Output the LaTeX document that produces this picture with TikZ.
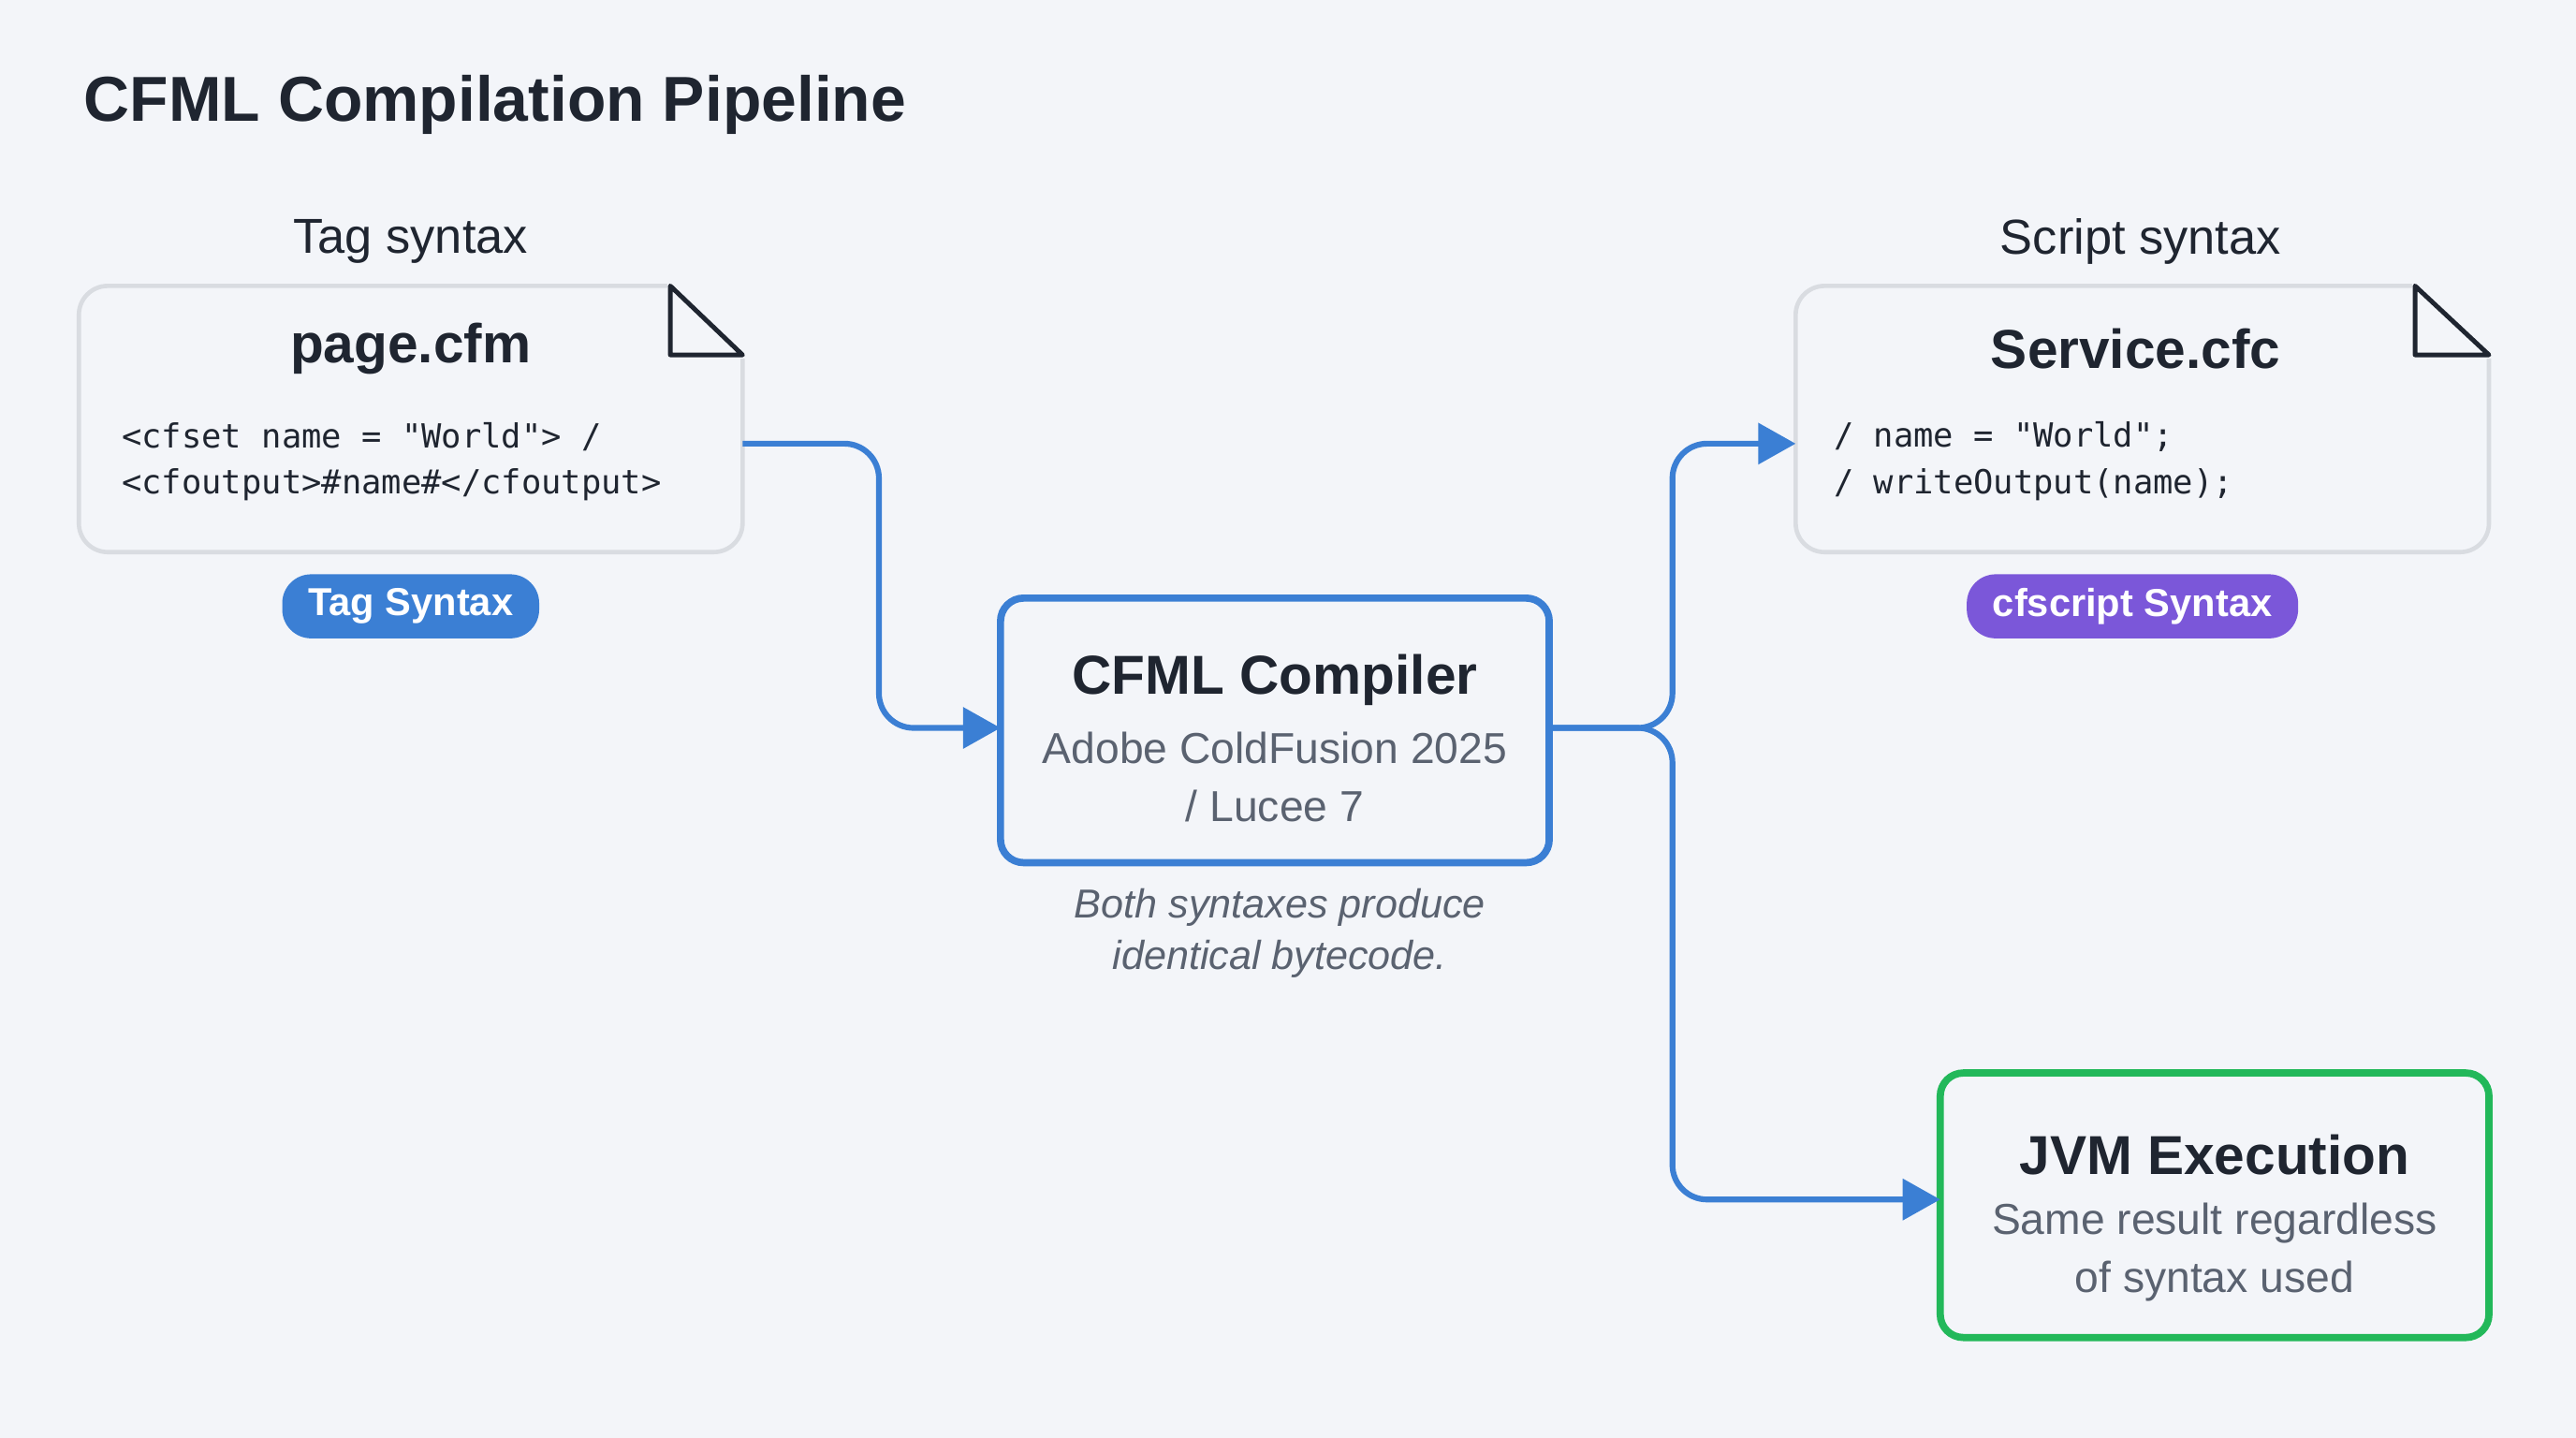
\documentclass[tikz,border=0pt]{standalone}
\usepackage{fontspec}
\setmainfont{Liberation Sans}
\newfontfamily\codefont{DejaVu Sans Mono}
\usetikzlibrary{arrows.meta,positioning}
\definecolor{bgc}{HTML}{F3F5F9}
\definecolor{ink}{HTML}{1F2530}
\definecolor{grayline}{HTML}{D9DCE1}
\definecolor{subt}{HTML}{5A6270}
\definecolor{flow}{HTML}{3B7FD4}
\definecolor{pillp}{HTML}{7B57D9}
\definecolor{okg}{HTML}{22B85A}
\begin{document}
\begin{tikzpicture}[x=0.02cm,y=-0.02cm]
\tikzstyle{doc}=[draw=grayline,line width=1.5pt,fill=bgc,rounded corners=10pt]
\tikzstyle{hdr}=[font=\fontsize{17}{20}\selectfont,text=ink]
\tikzstyle{fname}=[font=\fontsize{19}{23}\selectfont\bfseries,text=ink]
\tikzstyle{code}=[font=\codefont\fontsize{11.5}{16}\selectfont,text=ink,anchor=west]
\tikzstyle{pill}=[rounded corners=10pt,text=white,minimum height=0.78cm,font=\fontsize{13.5}{16}\selectfont\bfseries,inner xsep=9pt]
\tikzstyle{stage}=[line width=2.5pt,rounded corners=8pt,fill=bgc]
\tikzstyle{sub}=[font=\fontsize{15}{20}\selectfont,text=subt,align=center]
\tikzstyle{link}=[draw=flow,line width=2pt,rounded corners=12pt,-{Triangle[length=13pt,width=14pt]}]
\fill[bgc] (0,0) rectangle (1568,875);
\node[anchor=west,font=\fontsize{22}{26}\selectfont\bfseries,text=ink] (title) at (45,64) {CFML Compilation Pipeline};
% tag syntax file
\draw[doc] (48,174) rectangle (452,336);
\fill[bgc] (406,168) rectangle (458,218);
\draw[ink,line width=1.6pt,line join=round] (408,174) -- (408,216) -- (452,216) -- cycle;
\node[hdr] (taghdr) at (250,147) {Tag syntax};
\node[fname] (tagname) at (250,212) {page.cfm};
\node[code] (tagc1) at (68,266) {<cfset name = "World"> /};
\node[code] (tagc2) at (68,295) {<cfoutput>\#name\#</cfoutput>};
\node[pill,fill=flow] (tagpill) at (250,369) {Tag Syntax};
\coordinate (tagout) at (452,270);
% script syntax file
\draw[doc] (1093,174) rectangle (1515,336);
\fill[bgc] (1468,168) rectangle (1521,218);
\draw[ink,line width=1.6pt,line join=round] (1470,174) -- (1470,216) -- (1515,216) -- cycle;
\node[hdr] (scrhdr) at (1303,147) {Script syntax};
\node[fname] (scrname) at (1300,212) {Service.cfc};
\node[code] (scrc1) at (1110,266) {/ name = "World";};
\node[code] (scrc2) at (1110,295) {/ writeOutput(name);};
\node[pill,fill=pillp] (scrpill) at (1298,369) {cfscript Syntax};
\coordinate (scrin) at (1093,270);
% compiler
\draw[stage,draw=flow] (609,364) rectangle (943,525);
\node[fname] (comp) at (776,414) {CFML Compiler};
\node[sub] (compsub) at (776,473) {Adobe ColdFusion 2025\\/ Lucee 7};
\node[font=\fontsize{14}{18}\selectfont\itshape,text=subt,align=center] (note) at (779,568) {Both syntaxes produce\\identical bytecode.};
\coordinate (compin) at (609,443);
\coordinate (compout) at (943,443);
% jvm
\draw[stage,draw=okg] (1181,653) rectangle (1515,814);
\node[fname] (jvm) at (1348,703) {JVM Execution};
\node[sub] (jvmsub) at (1348,762) {Same result regardless\\of syntax used};
\coordinate (jvmin) at (1181,730);
% connectors
\draw[link] (tagout) -- (535,270) -- (535,443) -- (compin);
\draw[link] (compout) -- (1018,443) -- (1018,270) -- (scrin);
\draw[link] (compout) -- (1018,443) -- (1018,730) -- (jvmin);
\end{tikzpicture}
\end{document}
